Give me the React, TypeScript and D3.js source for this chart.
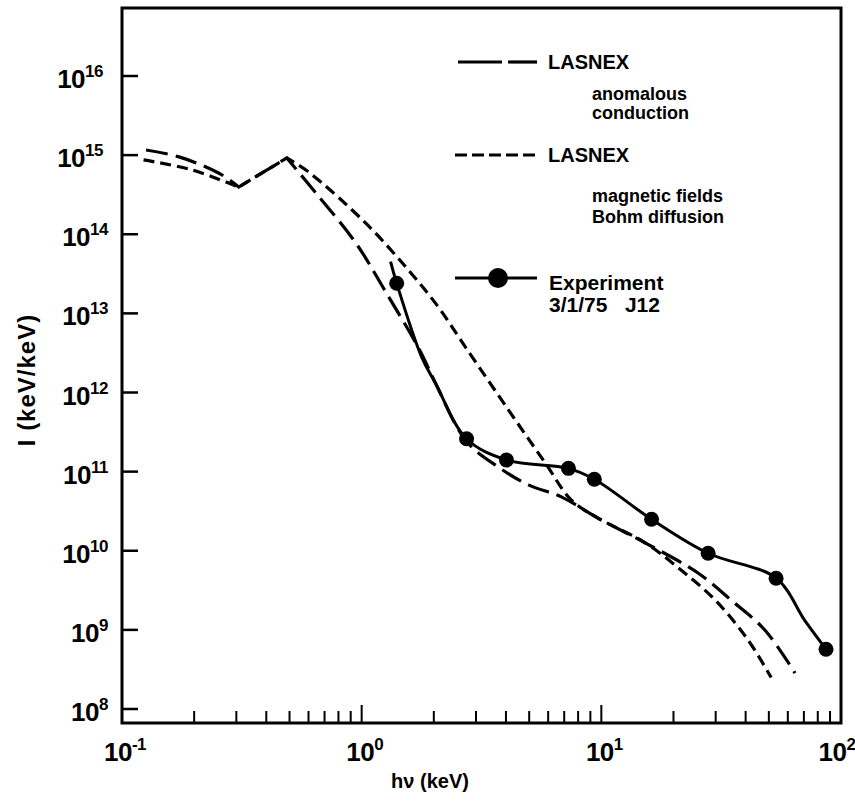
import React from "react";
import * as d3 from "d3";

// ---- data ----
const anomalousX = [0.126, 0.173, 0.254, 0.307, 0.487, 0.645, 0.944, 1.247, 1.745, 2.03, 2.74, 3.72, 4.96, 6.81, 9.72, 15.3, 25.4, 34.8, 48.2, 64.3];
const anomalousY = [1.16e15, 9.5e14, 5.9e14, 3.95e14, 9.2e14, 3.3e14, 7.8e13, 1.97e13, 3.44e12, 1.32e12, 2.4e11, 1.14e11, 6.8e10, 4.8e10, 2.57e10, 1.25e10, 5.2e9, 2.37e9, 9.9e8, 2.84e8];

const bohmX = [0.123, 0.196, 0.307, 0.487, 0.601, 1.04, 1.57, 2.09, 2.71, 4.1, 5.84, 7.5, 9.72, 15.3, 21.5, 29.9, 41.0, 51.1];
const bohmY = [8.7e14, 6.5e14, 3.95e14, 9.2e14, 6.1e14, 1.38e14, 3.5e13, 1.2e13, 3.75e12, 6.0e11, 1.28e11, 4.37e10, 2.57e10, 1.25e10, 5.7e9, 2.37e9, 7.4e8, 2.5e8];

const expX = [1.4, 2.74, 4.02, 7.29, 9.35, 16.2, 27.9, 53.6, 86.6];
const expY = [2.4e13, 2.6e11, 1.4e11, 1.1e11, 8.0e10, 2.5e10, 9.3e9, 4.5e9, 5.7e8];

const expCurveX = [1.32, 1.4, 1.78, 2.03, 2.74, 4.02, 7.29, 9.35, 16.2, 27.9, 53.6, 70.8, 86.6];
const expCurveY = [4.5e13, 2.4e13, 2.8e12, 1.32e12, 2.6e11, 1.4e11, 1.1e11, 8.0e10, 2.5e10, 9.3e9, 4.5e9, 1.3e9, 5.7e8];

// energies where the LASNEX curves have sharp corners
const kinkX = [0.307, 0.487];

const yTickExps = [8, 9, 10, 11, 12, 13, 14, 15, 16];
const xTickExps = [-1, 0, 1, 2];
const xMinorMultipliers = [2, 3, 4, 5, 6, 7, 8, 9];

const xTitle = "h\u03bd (keV)";
const yTitle = "I (keV/keV)";

const FONT = "'Liberation Sans', Arial, Helvetica, sans-serif";

export default function App() {
  const W = 855, H = 803;
  const left = 122, right = 841, top = 8, bottom = 723;

  const x = d3.scaleLog().domain([0.1, 100]).range([left, right]);
  const y = d3.scaleLog().domain([1e8, 1e16]).range([709, 76]);

  const toPts = (xs: number[], ys: number[]) => xs.map((v, i) => [x(v), y(ys[i])] as [number, number]);

  const smooth = d3.line().curve(d3.curveCatmullRom.alpha(0.5));
  const straight = d3.line();

  // smooth pieces joined with straight segments at the kinks
  const kinkedPath = (xs: number[], ys: number[]) => {
    const pts = toPts(xs, ys);
    const i0 = xs.indexOf(kinkX[0]);
    const i1 = xs.indexOf(kinkX[1]);
    const a = smooth(pts.slice(0, i0 + 1)) || "";
    const b = straight(pts.slice(i0, i1 + 1)) || "";
    const c = smooth(pts.slice(i1)) || "";
    return a + b.replace(/^M/, "L") + c.replace(/^M/, "L");
  };

  const anomalousPath = kinkedPath(anomalousX, anomalousY);
  const bohmPath = kinkedPath(bohmX, bohmY);
  const expPath = smooth(toPts(expCurveX, expCurveY)) || "";

  const minorTicks: number[] = [];
  for (const e of [-1, 0, 1]) {
    for (const m of xMinorMultipliers) minorTicks.push(m * Math.pow(10, e));
  }

  const longDash = "22 8";
  const shortDash = "11 6";

  return (
    <svg width={W} height={H} style={{ position: "absolute", left: 0, top: 0, background: "#fff" }} fontFamily={FONT}>
      <rect x={0} y={0} width={W} height={H} fill="#fff" />
      {/* frame */}
      <rect x={left} y={top} width={right - left} height={bottom - top} fill="none" stroke="#000" strokeWidth={3} />

      {/* y ticks */}
      {yTickExps.map((e) => (
        <g key={"yt" + e}>
          <line x1={left} x2={left + 16} y1={y(Math.pow(10, e))} y2={y(Math.pow(10, e))} stroke="#000" strokeWidth={2.5} />
          <text x={e >= 15 ? 103 : 108} y={y(Math.pow(10, e)) + 12} textAnchor="end" fontSize={26} fontWeight="bold" letterSpacing={-0.5}>
            10
            <tspan fontSize={17} dy={-11}>{String(e)}</tspan>
          </text>
        </g>
      ))}

      {/* x ticks */}
      {minorTicks.map((v, i) => (
        <line key={"xm" + i} x1={x(v)} x2={x(v)} y1={bottom} y2={bottom - 12} stroke="#000" strokeWidth={2} />
      ))}
      {[1, 10].map((v) => (
        <line key={"xM" + v} x1={x(v)} x2={x(v)} y1={bottom} y2={bottom - 18} stroke="#000" strokeWidth={2} />
      ))}
      {xTickExps.map((e) => (
        <text key={"xl" + e} x={x(Math.pow(10, e)) + (e === 2 ? -4 : 3)} y={761} textAnchor="middle" fontSize={26} fontWeight="bold" letterSpacing={-0.5}>
          10
          <tspan fontSize={17} dy={-11}>{e < 0 ? "-" + Math.abs(e) : String(e)}</tspan>
        </text>
      ))}

      {/* axis titles */}
      <text x={430} y={788} textAnchor="middle" fontSize={20} fontWeight="bold">{xTitle}</text>
      <text transform="translate(35,380) rotate(-90)" textAnchor="middle" fontSize={24} fontWeight="bold" letterSpacing={1}>{yTitle}</text>

      {/* curves */}
      <path d={anomalousPath} fill="none" stroke="#000" strokeWidth={3.2} strokeDasharray={longDash} />
      <path d={bohmPath} fill="none" stroke="#000" strokeWidth={3.2} strokeDasharray={shortDash} />
      <path d={expPath} fill="none" stroke="#000" strokeWidth={3} />
      {expX.map((v, i) => (
        <circle key={"e" + i} cx={x(v)} cy={y(expY[i])} r={7.5} fill="#000" />
      ))}

      {/* legend */}
      <g fontWeight="bold">
        <line x1={458} x2={502} y1={62} y2={62} stroke="#000" strokeWidth={3.2} />
        <line x1={508} x2={537} y1={62} y2={62} stroke="#000" strokeWidth={3.2} />
        <text x={548} y={69} fontSize={20}>LASNEX</text>
        <text x={592} y={100} fontSize={18}>anomalous</text>
        <text x={592} y={119} fontSize={18}>conduction</text>

        <line x1={455} x2={537} y1={155} y2={155} stroke="#000" strokeWidth={3.2} strokeDasharray="12 5" />
        <text x={548} y={162} fontSize={20}>LASNEX</text>
        <text x={592} y={202} fontSize={18}>magnetic fields</text>
        <text x={592} y={223} fontSize={18}>Bohm diffusion</text>

        <line x1={455} x2={537} y1={278} y2={278} stroke="#000" strokeWidth={3} />
        <circle cx={498} cy={278} r={10} fill="#000" />
        <text x={549} y={290} fontSize={21}>Experiment</text>
        <text x={549} y={312} fontSize={21} xmlSpace="preserve">{"3/1/75   J12"}</text>
      </g>
    </svg>
  );
}
